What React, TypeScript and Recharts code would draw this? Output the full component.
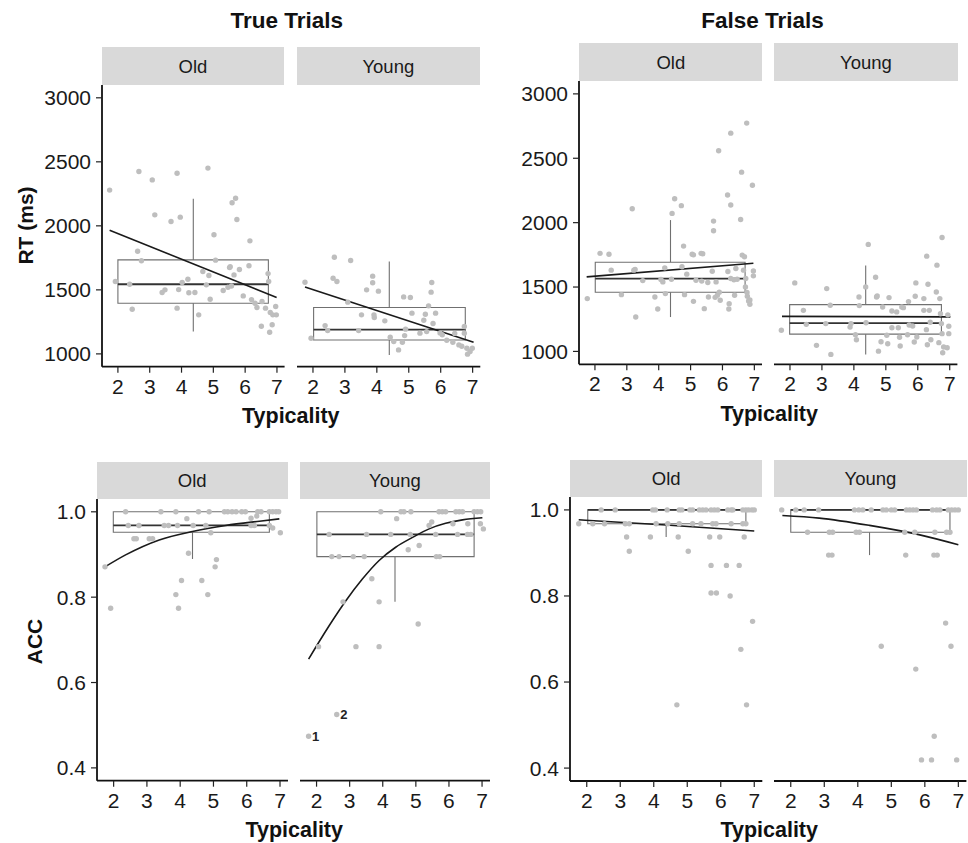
import React from "react";
import {
  ComposedChart,
  Line,
  ReferenceArea,
  ReferenceLine,
  Scatter,
  XAxis,
  YAxis,
} from "recharts";

type Pt = [number, number];

const TYPICALITY_TICKS = [2, 3, 4, 5, 6, 7];
const RT_TICKS = [1000, 1500, 2000, 2500, 3000];
const ACC_TICKS = [0.4, 0.6, 0.8, 1.0];
const X_DOMAIN: [number, number] = [1.5, 7.24];
const RT_DOMAIN: [number, number] = [900, 3100];
const ACC_DOMAIN: [number, number] = [0.37, 1.03];

// ---- RT, true trials ----
const trueRtOld: Pt[] = [
  [1.74, 2279], [2.66, 2424], [3.08, 2359], [3.86, 2411], [4.83, 2451], [3.16, 2086],
  [3.67, 2034], [3.96, 2068], [5.59, 2180], [5.7, 2216], [5.74, 2049], [5.02, 1930],
  [6.15, 1883], [2.62, 1802], [2.74, 1727], [5.07, 1732], [5.51, 1674], [5.53, 1680],
  [5.82, 1659], [6.12, 1688], [5.65, 1617], [6.72, 1627], [4.67, 1643], [4.86, 1612],
  [1.92, 1565], [2.37, 1544], [4.2, 1583], [4.02, 1557], [4.78, 1539], [3.39, 1479],
  [3.48, 1500], [3.91, 1502], [4.23, 1477], [4.42, 1479], [5.31, 1495], [5.46, 1521],
  [5.57, 1530], [4.9, 1427], [5.94, 1453], [6.2, 1424], [6.31, 1396], [6.37, 1362],
  [6.53, 1409], [6.64, 1357], [6.96, 1370], [2.45, 1349], [3.86, 1357], [4.54, 1305],
  [6.79, 1323], [6.87, 1305], [6.98, 1305], [6.51, 1216], [6.85, 1227], [6.77, 1169],
  [6.74, 1565],
];
const trueRtYoung: Pt[] = [
  [1.75, 1560], [2.67, 1755], [3.18, 1729], [2.63, 1591], [2.75, 1565], [3.87, 1607],
  [3.87, 1555], [3.68, 1500], [4.05, 1490], [4.84, 1445], [5.05, 1440], [5.72, 1557],
  [5.7, 1482], [5.62, 1375], [3.09, 1404], [3.52, 1305], [3.91, 1305], [3.92, 1284],
  [4.25, 1258], [5.1, 1318], [5.52, 1310], [5.84, 1318], [5.47, 1263], [5.76, 1237],
  [2.38, 1221], [2.46, 1182], [3.43, 1182], [4.9, 1193], [5.35, 1162], [5.56, 1174],
  [1.94, 1122], [4.42, 1130], [4.53, 1096], [4.8, 1091], [4.68, 1031], [4.87, 1143],
  [5.98, 1164], [6.19, 1107], [6.38, 1091], [6.57, 1070], [6.66, 1060], [6.74, 1162],
  [6.74, 1214], [6.82, 1044], [6.99, 1044], [6.84, 998], [6.92, 1019], [6.44, 1160],
  [6.05, 1150],
];

// ---- RT, false trials ----
const falseRtOld: Pt[] = [
  [1.76, 1410], [2.16, 1761], [2.44, 1755], [2.51, 1631], [3.17, 2108], [3.22, 1631],
  [3.26, 1636], [2.83, 1441], [3.28, 1267], [3.88, 1423], [3.97, 1330], [4.07, 1558],
  [4.13, 1540], [4.19, 1649], [4.21, 1449], [4.42, 2072], [4.5, 2186], [4.71, 2132],
  [4.78, 1818], [4.73, 1657], [4.88, 1600], [4.81, 1441], [5.05, 1755], [5.09, 1750],
  [5.33, 1761], [5.38, 1758], [5.09, 1389], [5.17, 1553], [5.35, 1546], [5.54, 1535],
  [5.43, 1332], [5.56, 1423], [5.72, 2012], [5.72, 1937], [5.68, 1623], [5.8, 1540],
  [5.88, 2558], [6.26, 2695], [6.76, 2773], [6.6, 2392], [6.94, 2290], [6.16, 2215],
  [6.26, 2137], [6.57, 2025], [5.84, 1436], [5.93, 1397], [5.77, 1420], [6.21, 1371],
  [6.2, 1330], [6.38, 1436], [6.17, 1621], [6.26, 1566], [6.36, 1556], [6.46, 1560],
  [6.42, 1644], [6.62, 1748], [6.69, 1735], [6.66, 1631], [6.73, 1566], [6.72, 1501],
  [6.77, 1457], [6.78, 1428], [6.82, 1392], [6.86, 1366], [6.86, 1400], [6.97, 1625],
  [6.97, 1587], [5.9, 1460], [3.5, 1550], [4.4, 1560],
];
const falseRtYoung: Pt[] = [
  [1.73, 1164], [2.15, 1532], [2.42, 1319], [2.51, 1210], [2.83, 1047], [3.15, 1488],
  [3.26, 1358], [3.12, 1216], [3.28, 977], [3.88, 1189], [3.91, 1216], [4.16, 1423],
  [4.17, 1356], [4.05, 1130], [4.08, 1091], [4.37, 1501], [4.45, 1831], [4.38, 1223],
  [4.68, 1576], [4.71, 1423], [4.73, 1430], [4.77, 1002], [4.85, 1075], [4.9, 1345],
  [5.03, 1125], [5.06, 1060], [5.1, 1418], [5.19, 1314], [5.19, 1184], [5.34, 1307],
  [5.39, 1184], [5.45, 1042], [5.5, 1345], [5.55, 1340], [5.43, 1110], [5.68, 1130],
  [5.71, 1387], [5.73, 1205], [5.84, 1197], [5.92, 1428], [5.94, 1532], [5.89, 1073],
  [5.97, 1112], [6.19, 1410], [6.19, 1319], [6.28, 1740], [6.32, 1522], [6.27, 1169],
  [6.3, 1052], [6.41, 1091], [6.6, 1670], [6.58, 1462], [6.69, 1410], [6.76, 1885],
  [6.71, 1293], [6.74, 1216], [6.76, 1138], [6.66, 1068], [6.81, 1034], [6.92, 1029],
  [6.78, 990], [6.97, 1195], [6.97, 1138], [6.94, 1284], [6.39, 1226], [6.36, 1319],
];

// ---- ACC, true trials ----
const trueAccOld: Pt[] = [
  [2.36, 1], [3.42, 1], [3.87, 1], [4.55, 1], [4.87, 1], [5.33, 1], [5.43, 1], [5.56, 1],
  [5.68, 1], [5.85, 1], [5.96, 1], [6.33, 1], [6.43, 1], [6.68, 1], [6.78, 1], [6.88, 1],
  [6.96, 1],
  [2.44, 0.968], [2.76, 0.968], [3.52, 0.968], [3.65, 0.968], [3.92, 0.968], [4.39, 0.968],
  [4.77, 0.968], [6.13, 0.968], [6.23, 0.968], [6.68, 0.968],
  [2.61, 0.937], [2.68, 0.937], [3.07, 0.937], [3.17, 0.937],
  [4.92, 0.951], [7.01, 0.951],
  [4.2, 0.984], [6.13, 0.985], [6.3, 0.99], [6.78, 0.962], [4.25, 0.903], [5.09, 0.888],
  [5.05, 0.871], [4.04, 0.839], [4.65, 0.839], [3.87, 0.806], [4.83, 0.806], [3.95, 0.774],
  [1.91, 0.774], [1.74, 0.871],
];
const trueAccYoung: Pt[] = [
  [3.94, 1], [4.55, 1], [4.64, 1], [4.85, 1], [5.7, 1], [5.8, 1], [5.9, 1], [6.21, 1],
  [6.31, 1], [6.41, 1], [6.76, 1], [6.86, 1], [6.96, 1],
  [2.38, 0.947], [3.51, 0.947], [4.24, 0.947], [4.83, 0.947], [5.6, 0.947], [6.26, 0.947],
  [6.56, 0.947], [6.66, 0.947],
  [2.46, 0.895], [2.68, 0.895], [3.11, 0.895], [3.44, 0.895], [5.62, 0.895], [5.72, 0.895],
  [4.42, 0.984], [5.48, 0.976], [5.4, 0.968], [6.12, 0.972], [6.57, 0.972], [6.95, 0.972],
  [7.04, 0.96], [4.77, 0.911], [5.1, 0.921], [3.67, 0.843], [3.89, 0.789], [5.07, 0.737],
  [3.19, 0.684], [3.89, 0.684], [2.06, 0.684], [2.8, 0.789], [1.76, 0.474], [2.61, 0.525],
];
const trueAccYoungLabels = [
  { x: 1.76, y: 0.474, label: "1" },
  { x: 2.61, y: 0.525, label: "2" },
];

// ---- ACC, false trials ----
const falseAccOld: Pt[] = [
  [2.43, 1], [2.85, 1], [3.97, 1], [4.05, 1], [4.4, 1], [4.76, 1], [4.84, 1], [5.08, 1],
  [5.16, 1], [5.36, 1], [5.46, 1], [5.56, 1], [5.71, 1], [5.81, 1], [5.91, 1], [6.21, 1],
  [6.31, 1], [6.36, 1], [6.66, 1], [6.75, 1], [6.83, 1], [6.93, 1], [7.0, 1],
  [1.76, 0.968], [2.18, 0.968], [2.53, 0.968], [3.15, 0.968], [3.27, 0.968], [4.07, 0.968],
  [4.42, 0.968], [4.76, 0.968], [5.16, 0.968], [5.41, 0.968], [5.76, 0.968], [5.86, 0.968],
  [6.31, 0.968], [6.66, 0.968], [6.75, 0.968],
  [3.19, 0.937], [3.9, 0.937], [4.73, 0.937], [5.67, 0.937], [5.97, 0.937], [6.7, 0.937],
  [3.27, 0.904], [5.03, 0.904],
  [5.71, 0.871], [6.17, 0.871], [6.55, 0.871],
  [5.71, 0.807], [5.87, 0.807], [6.28, 0.8],
  [6.95, 0.741], [6.6, 0.676], [4.69, 0.547], [6.77, 0.547],
];
const falseAccYoung: Pt[] = [
  [1.73, 1], [2.15, 1], [2.4, 1], [2.83, 1], [3.9, 1], [4.03, 1], [4.15, 1], [4.4, 1],
  [4.75, 1], [4.85, 1], [5.0, 1], [5.1, 1], [5.45, 1], [5.55, 1], [5.65, 1], [5.75, 1],
  [6.23, 1], [6.35, 1], [6.45, 1], [6.7, 1], [6.8, 1], [6.9, 1], [7.0, 1],
  [2.5, 0.948], [3.15, 0.948], [3.25, 0.948], [3.95, 0.948], [4.05, 0.948], [5.4, 0.948],
  [5.7, 0.948], [6.3, 0.948], [6.65, 0.948], [6.75, 0.948],
  [3.13, 0.895], [3.23, 0.895], [5.43, 0.895], [6.27, 0.895], [6.37, 0.895],
  [6.62, 0.737], [4.7, 0.683], [6.78, 0.683], [5.73, 0.63], [6.28, 0.474], [5.9, 0.419],
  [6.2, 0.419], [6.95, 0.419],
];

// box stats: [left, right, whiskerX, min, q1, median, q3, max]
const trueRtOldBox = [2.0, 6.73, 4.37, 1174, 1396, 1544, 1734, 2211];
const trueRtYoungBox = [2.02, 6.77, 4.39, 992, 1109, 1190, 1362, 1721];
const falseRtOldBox = [2.01, 6.71, 4.37, 1267, 1459, 1566, 1693, 2020];
const falseRtYoungBox = [1.99, 6.74, 4.37, 977, 1134, 1220, 1363, 1667];
const trueAccOldBox = [1.99, 6.68, 4.37, 0.8895, 0.952, 0.968, 1.0, 1.0];
const trueAccYoungBox = [2.01, 6.76, 4.37, 0.789, 0.895, 0.947, 1.0, 1.0];
const falseAccOldBox = [2.03, 6.75, 4.37, 0.937, 0.968, 1.0, 1.0, 1.0];
const falseAccYoungBox = [2.0, 6.75, 4.35, 0.895, 0.948, 1.0, 1.0, 1.0];

// fitted lines
const trueRtOldFit: Pt[] = [[1.74, 1966], [6.99, 1440]];
const trueRtYoungFit: Pt[] = [[1.75, 1523], [7.03, 1091]];
const falseRtOldFit: Pt[] = [[1.74, 1579], [6.97, 1685]];
const falseRtYoungFit: Pt[] = [[1.75, 1272], [7.02, 1268]];
const trueAccOldFit: Pt[] = [
  [1.74, 0.871], [2.36, 0.899], [3.37, 0.934], [4.37, 0.954], [5.37, 0.968], [6.38, 0.978],
  [6.98, 0.9835],
];
const trueAccYoungFit: Pt[] = [
  [1.76, 0.655], [2.38, 0.733], [2.88, 0.791], [3.39, 0.843], [3.89, 0.886], [4.39, 0.917],
  [4.9, 0.94], [5.4, 0.96], [5.9, 0.973], [6.41, 0.981], [7.01, 0.986],
];
const falseAccOldFit: Pt[] = [[1.76, 0.977], [4.37, 0.965], [7.0, 0.951]];
const falseAccYoungFit: Pt[] = [
  [1.75, 0.987], [2.85, 0.981], [4.35, 0.964], [5.85, 0.942], [7.0, 0.919],
];

const FONT = '"Liberation Sans", Arial, Helvetica, sans-serif';
const POINT = "#bebebe";
const BOX = "#707070";
const TICK_FONT = 21;

interface FacetSpec {
  name: string;
  left: number;
  right: number;
  top: number;
  bottom: number;
  stripTop: number;
  yAxis: boolean;
  kind: "rt" | "acc";
  points: Pt[];
  fit: Pt[];
  box: number[];
  labels?: { x: number; y: number; label: string }[];
}

const facets: FacetSpec[] = [
  { name: "Old", left: 101.7, right: 284.3, top: 85, bottom: 366.7, stripTop: 47.3, yAxis: true, kind: "rt", points: trueRtOld, fit: trueRtOldFit, box: trueRtOldBox },
  { name: "Young", left: 296.7, right: 480, top: 85, bottom: 366.7, stripTop: 47.3, yAxis: false, kind: "rt", points: trueRtYoung, fit: trueRtYoungFit, box: trueRtYoungBox },
  { name: "Old", left: 579.3, right: 762.3, top: 81, bottom: 364.3, stripTop: 43.3, yAxis: true, kind: "rt", points: falseRtOld, fit: falseRtOldFit, box: falseRtOldBox },
  { name: "Young", left: 774.3, right: 957.7, top: 81, bottom: 364.3, stripTop: 43.3, yAxis: false, kind: "rt", points: falseRtYoung, fit: falseRtYoungFit, box: falseRtYoungBox },
  { name: "Old", left: 96.7, right: 287.7, top: 499, bottom: 780.7, stripTop: 461.7, yAxis: true, kind: "acc", points: trueAccOld, fit: trueAccOldFit, box: trueAccOldBox },
  { name: "Young", left: 300, right: 490, top: 499, bottom: 780.7, stripTop: 461.7, yAxis: false, kind: "acc", points: trueAccYoung, fit: trueAccYoungFit, box: trueAccYoungBox, labels: trueAccYoungLabels },
  { name: "Old", left: 570, right: 762.3, top: 496.7, bottom: 780.7, stripTop: 460, yAxis: true, kind: "acc", points: falseAccOld, fit: falseAccOldFit, box: falseAccOldBox },
  { name: "Young", left: 774.3, right: 966.7, top: 496.7, bottom: 780.7, stripTop: 460, yAxis: false, kind: "acc", points: falseAccYoung, fit: falseAccYoungFit, box: falseAccYoungBox },
];

function Dot(props: any) {
  return <circle cx={props.cx} cy={props.cy} r={2.7} fill={POINT} />;
}

function LabelDot(props: any) {
  return (
    <text
      x={props.cx + 3.5}
      y={props.cy + 4.5}
      fontSize={13}
      fontWeight="bold"
      fill="#222"
    >
      {props.payload.label}
    </text>
  );
}

function Facet({ spec }: { spec: FacetSpec }) {
  const padL = spec.yAxis ? 64 : 0;
  const padR = 8;
  const padB = 40;
  const w = spec.right - spec.left;
  const h = spec.bottom - spec.top;
  const isRt = spec.kind === "rt";
  const [bx1, bx2, wx, lo, q1, med, q3, hi] = spec.box;
  const pts = spec.points.map(([x, y]) => ({ x, y }));
  const fit = spec.fit.map(([x, y]) => ({ x, y }));

  return (
    <>
      <div
        style={{
          position: "absolute",
          left: spec.left,
          top: spec.stripTop,
          width: w,
          height: spec.top - spec.stripTop,
          background: "#d9d9d9",
          display: "flex",
          alignItems: "center",
          justifyContent: "center",
          fontSize: 18.5,
          lineHeight: "19px",
          color: "#1a1a1a",
        }}
      >
        {spec.name}
      </div>
      <div style={{ position: "absolute", left: spec.left - padL, top: spec.top }}>
        <ComposedChart
          width={w + padL + padR}
          height={h + padB}
          margin={{ top: 0, right: padR, bottom: 0, left: 0 }}
        >
          <XAxis
            type="number"
            dataKey="x"
            domain={X_DOMAIN}
            allowDataOverflow
            ticks={TYPICALITY_TICKS}
            interval={0}
            height={padB}
            tickSize={6}
            tickMargin={6}
            tick={{ fontSize: TICK_FONT, fill: "#1a1a1a" }}
            axisLine={{ stroke: "#111", strokeWidth: 1.8 }}
            tickLine={{ stroke: "#222", strokeWidth: 1.2 }}
          />
          <YAxis
            type="number"
            dataKey="y"
            domain={isRt ? RT_DOMAIN : ACC_DOMAIN}
            allowDataOverflow
            ticks={isRt ? RT_TICKS : ACC_TICKS}
            interval={0}
            hide={!spec.yAxis}
            width={padL}
            tickSize={6}
            tickMargin={5}
            tick={{ fontSize: TICK_FONT, fill: "#1a1a1a" }}
            tickFormatter={(v: number) => (isRt ? String(v) : v.toFixed(1))}
            axisLine={{ stroke: "#111", strokeWidth: 1.8 }}
            tickLine={{ stroke: "#222", strokeWidth: 1.2 }}
          />
          <Scatter data={pts} shape={Dot} isAnimationActive={false} />
          <ReferenceArea
            x1={bx1}
            x2={bx2}
            y1={q1}
            y2={q3}
            fill="none"
            stroke={BOX}
            strokeWidth={1.1}
          />
          <ReferenceLine
            segment={[{ x: bx1, y: med }, { x: bx2, y: med }]}
            stroke="#333"
            strokeWidth={1.8}
          />
          {hi > q3 && (
            <ReferenceLine
              segment={[{ x: wx, y: q3 }, { x: wx, y: hi }]}
              stroke={BOX}
              strokeWidth={1.1}
            />
          )}
          {lo < q1 && (
            <ReferenceLine
              segment={[{ x: wx, y: q1 }, { x: wx, y: lo }]}
              stroke={BOX}
              strokeWidth={1.1}
            />
          )}
          <Line
            data={fit}
            dataKey="y"
            type={fit.length > 2 ? "monotone" : "linear"}
            stroke="#1a1a1a"
            strokeWidth={1.6}
            dot={false}
            activeDot={false}
            isAnimationActive={false}
          />
          {spec.labels && (
            <Scatter data={spec.labels} shape={LabelDot} isAnimationActive={false} />
          )}
        </ComposedChart>
      </div>
    </>
  );
}

function Title({ text, cx, cy, size, rotate }: { text: string; cx: number; cy: number; size: number; rotate?: boolean }) {
  return (
    <div
      style={{
        position: "absolute",
        left: cx - 150,
        top: cy - size / 2,
        width: 300,
        height: size,
        lineHeight: `${size}px`,
        fontSize: size,
        fontWeight: "bold",
        textAlign: "center",
        color: "#111",
        whiteSpace: "nowrap",
        transform: rotate ? "rotate(-90deg)" : undefined,
      }}
    >
      {text}
    </div>
  );
}

export default function App() {
  return (
    <div
      style={{
        position: "absolute",
        left: 0,
        top: 0,
        width: 968,
        height: 843,
        background: "#fff",
        fontFamily: FONT,
        overflow: "hidden",
      }}
    >
      <Title text="True Trials" cx={286.7} cy={20.8} size={22.5} />
      <Title text="False Trials" cx={762.5} cy={20.8} size={22.5} />
      <Title text="RT (ms)" cx={24.7} cy={225.8} size={21} rotate />
      <Title text="ACC" cx={33.8} cy={641.7} size={21} rotate />
      <Title text="Typicality" cx={290.8} cy={416.7} size={21.5} />
      <Title text="Typicality" cx={769.2} cy={414.5} size={21.5} />
      <Title text="Typicality" cx={294.2} cy={830.8} size={21.5} />
      <Title text="Typicality" cx={769.2} cy={830.8} size={21.5} />
      {facets.map((f, i) => (
        <Facet key={i} spec={f} />
      ))}
    </div>
  );
}
